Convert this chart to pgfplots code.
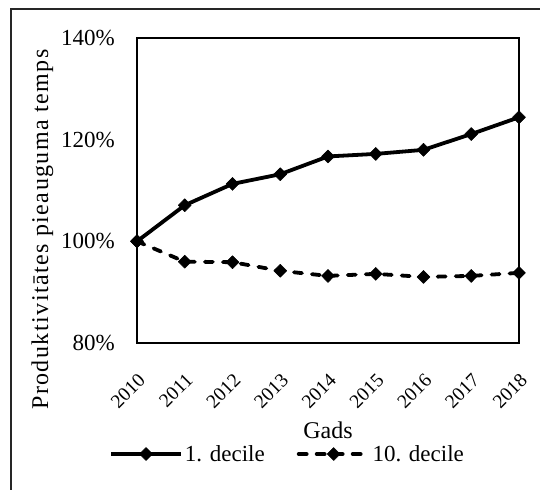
\documentclass[border=0pt]{standalone}
\usepackage{fontspec}
\setmainfont{Liberation Serif}
\usepackage{pgfplots}
\pgfplotsset{compat=1.18}
\newcommand{\fs}{\fontsize{23bp}{27bp}\selectfont}
\begin{document}
\begin{tikzpicture}
\path[use as bounding box] (0bp,0bp) rectangle (540bp,-490bp);
\begin{scope}
\clip (0bp,0bp) rectangle (540bp,-490bp);
\draw[line width=1.3bp, black!85] (11bp,-9bp) rectangle (580bp,-530bp);
\end{scope}
\begin{axis}[
  at={(137bp,-343bp)}, anchor=south west,
  scale only axis, width=382bp, height=305bp,
  xmin=2010, xmax=2018, ymin=80, ymax=140,
  xtick={2010,2011,2012,2013,2014,2015,2016,2017,2018},
  xticklabels={2010,2011,2012,2013,2014,2015,2016,2017,2018},
  ytick={80,100,120,140},
  yticklabels={80\%,100\%,120\%,140\%},
  major tick length=0pt,
  axis line style={line width=1.5bp},
  tick label style={font=\fs, inner sep=0pt},
  xticklabel style={rotate=45, anchor=north east, font=\fontsize{19.5bp}{23bp}\selectfont},
  xticklabel shift=29bp,
  yticklabel style={anchor=east},
  yticklabel shift=22bp,
  clip=false,
  legend columns=2,
  legend style={at={(0.394,-0.364)}, anchor=center, draw=none, fill=none,
    font=\fs, inner sep=0pt,
    /tikz/every even column/.append style={column sep=30bp}},
  legend image code/.code={\draw[mark repeat=2,mark phase=2,#1] plot coordinates {(0bp,0bp) (35bp,0bp) (70bp,0bp)};},
]
\addplot[black, line width=3.8bp, line join=round, mark=diamond*, mark size=6.5bp,
  mark options={solid, xscale=1.33, line width=0.5bp}]
  coordinates {(2010,100) (2011,107.1) (2012,111.3) (2013,113.2) (2014,116.7) (2015,117.2) (2016,118.0) (2017,121.1) (2018,124.4)};
\addlegendentry{1. decile}
\addplot[black, line width=3.8bp, line cap=round, line join=round, dash pattern=on 8bp off 10bp, mark=diamond*, mark size=6.5bp,
  mark options={solid, xscale=1.33, line width=0.5bp}]
  coordinates {(2010,100) (2011,96.0) (2012,95.9) (2013,94.2) (2014,93.2) (2015,93.6) (2016,93.0) (2017,93.2) (2018,93.8)};
\addlegendentry{10. decile}
\end{axis}
\node[anchor=base, inner sep=0pt, font=\fontsize{24bp}{28bp}\selectfont] at (328bp,-438bp) {Gads};
\node[anchor=base, inner sep=0pt, rotate=90, font=\fontsize{24bp}{28bp}\selectfont\addfontfeature{LetterSpace=6}] at (48bp,-229.5bp) {Produktivitātes pieauguma temps};
\end{tikzpicture}
\end{document}
